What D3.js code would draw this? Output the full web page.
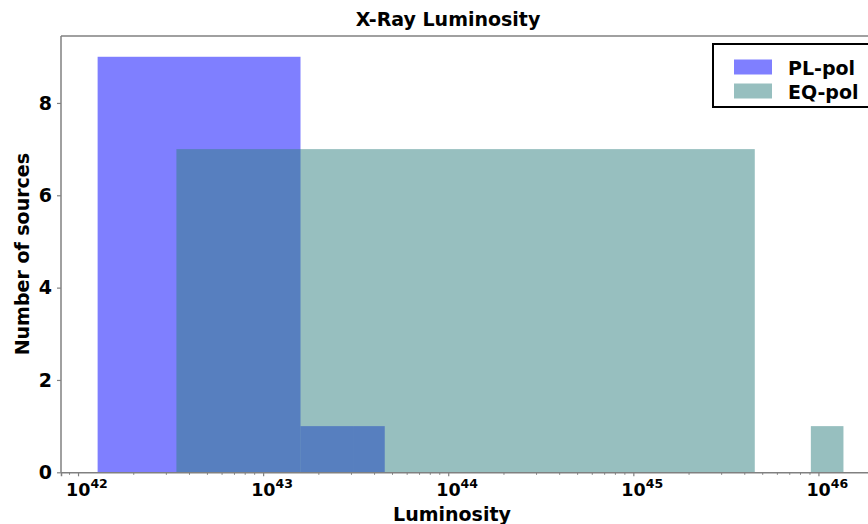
<!DOCTYPE html>
<html>
<head>
<meta charset="utf-8">
<script src="https://cdn.jsdelivr.net/npm/d3@7"></script>
<style>
  html, body { margin: 0; padding: 0; background: #fff; }
  svg { display: block; font-family: "DejaVu Sans", sans-serif; }
</style>
</head>
<body>
<svg id="chart" width="868" height="524"></svg>
<script>
// ---- data ----
const seriesNames = ["PL-pol", "EQ-pol"];
const plEdges = [1.276e42, 1.592e43, 3.06e43, 4.54e43];
const plCounts = [9, 1, 1];
const eqEdges = [3.4e42, 4.53e45, 9.1e45, 1.365e46];
const eqCounts = [7, 0, 1];
const xTickExponents = [42, 43, 44, 45, 46];
const yTicks = [0, 2, 4, 6, 8];
const titleText = "X-Ray Luminosity";
const xLabelText = "Luminosity";
const yLabelText = "Number of sources";

// ---- layout ----
const svg = d3.select("#chart");
const plotLeft = 61, plotRight = 881, plotTop = 36, plotBottom = 472.3;

const x = d3.scaleLog().domain([Math.pow(10, 41.908), Math.pow(10, 46.338)]).range([plotLeft, plotRight]);
const y = d3.scaleLinear().domain([0, 9.45]).range([plotBottom, plotTop]);

const axisGray = "#808080";

function bins(edges, counts) {
  return counts.map((c, i) => ({ x0: edges[i], x1: edges[i + 1], c }));
}

const plot = svg.append("g");

// PL-pol first, EQ-pol on top
plot.selectAll("rect.pl").data(bins(plEdges, plCounts)).join("rect")
  .attr("class", "pl")
  .attr("x", d => x(d.x0)).attr("width", d => x(d.x1) - x(d.x0))
  .attr("y", d => y(d.c)).attr("height", d => y(0) - y(d.c))
  .attr("fill", "#0000ff").attr("fill-opacity", 0.5);

plot.selectAll("rect.eq").data(bins(eqEdges, eqCounts)).join("rect")
  .attr("class", "eq")
  .attr("x", d => x(d.x0)).attr("width", d => x(d.x1) - x(d.x0))
  .attr("y", d => y(d.c)).attr("height", d => y(0) - y(d.c))
  .attr("fill", "#2f7f7f").attr("fill-opacity", 0.5);

// spines
svg.append("line").attr("x1", plotLeft).attr("x2", plotLeft).attr("y1", plotTop).attr("y2", plotBottom)
  .attr("stroke", axisGray).attr("stroke-width", 1.5);
svg.append("line").attr("x1", plotLeft).attr("x2", plotRight).attr("y1", plotTop).attr("y2", plotTop)
  .attr("stroke", axisGray).attr("stroke-width", 1.5);

// x axis with log minor ticks
const xAxis = d3.axisBottom(x)
  .tickValues(xTickExponents.map(e => Math.pow(10, e)))
  .tickSize(4).tickFormat("");
const gx = svg.append("g").attr("transform", `translate(0,${plotBottom})`).call(xAxis);
gx.select(".domain").attr("stroke", axisGray).attr("stroke-width", 1.5);
gx.selectAll(".tick line").attr("stroke", axisGray).attr("stroke-width", 1.2);

const minorVals = [];
for (let e = 41; e <= 46; e++) for (let m = 2; m <= 9; m++) {
  const v = m * Math.pow(10, e);
  if (v > x.domain()[0] && v < x.domain()[1]) minorVals.push(v);
}
svg.append("g").selectAll("line").data(minorVals).join("line")
  .attr("x1", d => x(d)).attr("x2", d => x(d))
  .attr("y1", plotBottom).attr("y2", plotBottom + 2.5)
  .attr("stroke", axisGray).attr("stroke-width", 1);

// x tick labels 10^n
const xl = svg.append("g").selectAll("text").data(xTickExponents).join("text")
  .attr("x", e => x(Math.pow(10, e)) - 12)
  .attr("y", 496)
  .attr("font-weight", "bold").attr("font-size", 17.5).attr("fill", "#000");
xl.append("tspan").text("10");
xl.append("tspan").attr("dy", -8).attr("font-size", 12.5).text(e => e);

// y axis
const yAxis = d3.axisLeft(y).tickValues(yTicks).tickSize(4).tickPadding(5).tickFormat(d3.format("d"));
const gy = svg.append("g").attr("transform", `translate(${plotLeft},0)`).call(yAxis);
gy.select(".domain").remove();
gy.selectAll(".tick line").attr("stroke", axisGray).attr("stroke-width", 1.2);
gy.selectAll(".tick text").attr("font-family", "DejaVu Sans").attr("font-weight", "bold")
  .attr("font-size", 19).attr("fill", "#000");

// titles
svg.append("text").attr("x", 448).attr("y", 26).attr("text-anchor", "middle")
  .attr("font-weight", "bold").attr("font-size", 19).text(titleText);
svg.append("text").attr("x", 452).attr("y", 521).attr("text-anchor", "middle")
  .attr("font-weight", "bold").attr("font-size", 19).text(xLabelText);
svg.append("text").attr("transform", `translate(29,${(plotTop + plotBottom) / 2}) rotate(-90)`)
  .attr("text-anchor", "middle")
  .attr("font-weight", "bold").attr("font-size", 19).text(yLabelText);

// legend
const legendColors = ["#0000ff", "#2f7f7f"];
const lg = svg.append("g");
lg.append("rect").attr("x", 713).attr("y", 44).attr("width", 170).attr("height", 63)
  .attr("fill", "#fff").attr("stroke", "#000").attr("stroke-width", 2);
const items = lg.selectAll("g.item").data(seriesNames).join("g").attr("class", "item")
  .attr("transform", (d, i) => `translate(0,${i * 24})`);
items.append("rect").attr("x", 734).attr("y", 59.5).attr("width", 38).attr("height", 15)
  .attr("fill", (d, i) => legendColors[i]).attr("fill-opacity", 0.5);
items.append("text").attr("x", 788).attr("y", 75)
  .attr("font-weight", "bold").attr("font-size", 19).text(d => d);
</script>
</body>
</html>
